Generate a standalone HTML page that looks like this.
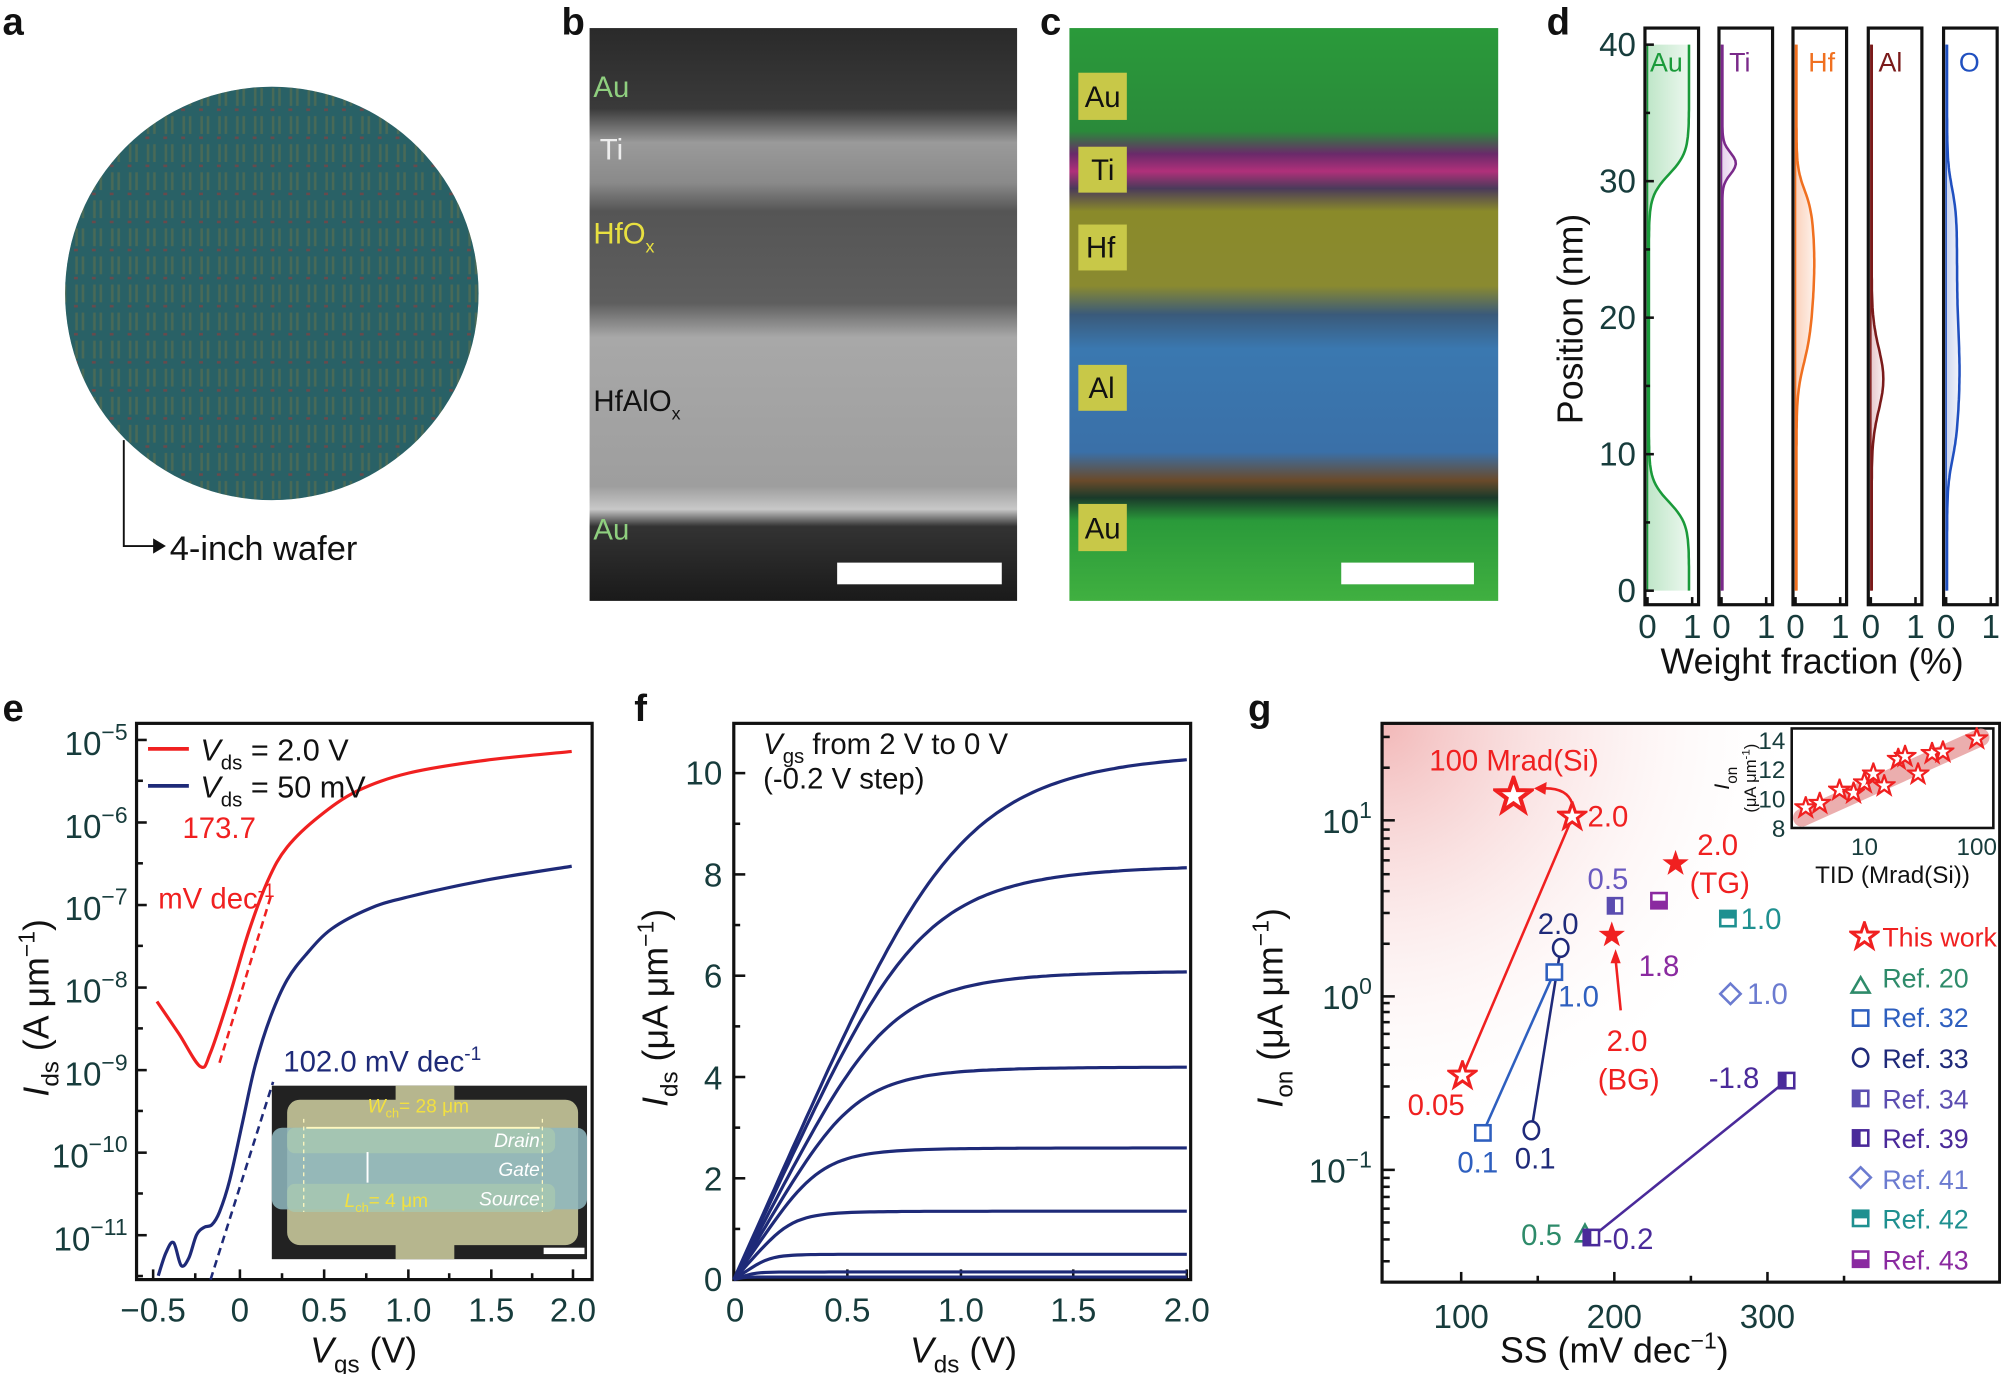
<!DOCTYPE html>
<html><head><meta charset="utf-8"><style>
html,body{margin:0;padding:0;background:#fff;width:2001px;height:1374px;overflow:hidden}
svg{display:block}
text{font-family:"Liberation Sans",sans-serif}
.t{fill:#173c3c;font-size:26px}
.pl{font-size:30px;font-weight:bold;fill:#111}
.ax{font-size:28px;fill:#111}
</style></head><body>
<svg id="s" width="2001" height="1374" viewBox="0 0 1568 1077" preserveAspectRatio="none" xmlns="http://www.w3.org/2000/svg">
<defs>
<pattern id="wg" width="14" height="22" patternUnits="userSpaceOnUse">
<rect width="14" height="22" fill="#285c62"/>
<rect x="3" y="3" width="2" height="14" fill="#5a6a4a"/><rect x="8" y="3" width="2" height="14" fill="#5a6a4a"/>
<rect x="2" y="19" width="3" height="2" fill="#8a3a3a"/>
</pattern>
<linearGradient id="bimg" x1="0" y1="0" x2="0" y2="1">
<stop offset="0" stop-color="#2a2a2a"/><stop offset="0.14" stop-color="#3a3a3a"/>
<stop offset="0.2" stop-color="#9a9a9a"/><stop offset="0.27" stop-color="#8a8a8a"/>
<stop offset="0.32" stop-color="#555"/><stop offset="0.48" stop-color="#5e5e5e"/>
<stop offset="0.54" stop-color="#a8a8a8"/><stop offset="0.8" stop-color="#9e9e9e"/>
<stop offset="0.84" stop-color="#c8c8c8"/><stop offset="0.87" stop-color="#333"/><stop offset="1" stop-color="#1a1a1a"/>
</linearGradient>
<linearGradient id="cimg" x1="0" y1="0" x2="0" y2="1">
<stop offset="0" stop-color="#2a9a3a"/><stop offset="0.18" stop-color="#2a8a3a"/>
<stop offset="0.22" stop-color="#6a2a6a"/><stop offset="0.25" stop-color="#b0307a"/><stop offset="0.28" stop-color="#4a3a5a"/>
<stop offset="0.32" stop-color="#8a8a2a"/><stop offset="0.45" stop-color="#8a8a30"/><stop offset="0.5" stop-color="#3a5a7a"/>
<stop offset="0.56" stop-color="#3a78b0"/><stop offset="0.74" stop-color="#3a70a8"/><stop offset="0.79" stop-color="#6a4a2a"/>
<stop offset="0.82" stop-color="#1a3a2a"/><stop offset="0.86" stop-color="#2a9a3a"/><stop offset="1" stop-color="#40b040"/>
</linearGradient>
<radialGradient id="rg" cx="1083" cy="567" r="330" gradientUnits="userSpaceOnUse">
<stop offset="0" stop-color="#f2b8b8"/><stop offset="1" stop-color="#fff" stop-opacity="0"/>
</radialGradient>
<symbol id="star" viewBox="-10 -10 20 20"><path d="M0,-9 L2.1,-2.9 8.6,-2.8 3.4,1.1 5.3,7.3 0,3.6 -5.3,7.3 -3.4,1.1 -8.6,-2.8 -2.1,-2.9Z"/></symbol>
</defs>

<!-- a -->
<text x="2" y="27" class="pl">a</text>
<circle cx="213" cy="230" r="162" fill="url(#wg)"/>
<circle cx="213" cy="230" r="162" fill="#2a6a70" opacity="0.35"/>
<path d="M97,345 V428 H122" fill="none" stroke="#111" stroke-width="1.5"/>
<path d="M120,422 L130,428 120,434Z" fill="#111"/>
<text x="133" y="439" style="font-size:27px" fill="#111">4-inch wafer</text>

<!-- b -->
<text x="440" y="27" class="pl">b</text>
<rect x="462" y="22" width="335" height="449" fill="url(#bimg)"/>
<rect x="656" y="441" width="129" height="17" fill="#fff"/>
<g style="font-size:23px">
<text x="465" y="76" fill="#8fcf7f">Au</text>
<text x="470" y="125" fill="#eee">Ti</text>
<text x="465" y="191" fill="#e8e040">HfO<tspan dy="7" style="font-size:14px">x</tspan></text>
<text x="465" y="322" fill="#111">HfAlO<tspan dy="7" style="font-size:14px">x</tspan></text>
<text x="465" y="423" fill="#8fcf7f">Au</text>
</g>

<!-- c -->
<text x="815" y="27" class="pl">c</text>
<rect x="838" y="22" width="336" height="449" fill="url(#cimg)"/>
<rect x="1051" y="441" width="104" height="17" fill="#fff"/>
<g style="font-size:23px" fill="#111">
<rect x="845" y="57" width="38" height="37" fill="#c8c848"/><text x="850" y="84">Au</text>
<rect x="845" y="115" width="38" height="36" fill="#c8c848"/><text x="855" y="141">Ti</text>
<rect x="845" y="176" width="38" height="36" fill="#c8c848"/><text x="851" y="202">Hf</text>
<rect x="845" y="286" width="38" height="36" fill="#c8c848"/><text x="853" y="312">Al</text>
<rect x="845" y="395" width="38" height="37" fill="#c8c848"/><text x="850" y="422">Au</text>
</g>

<!-- d -->
<text x="1212" y="27" class="pl">d</text>
<g id="dpanel"></g>
<g class="t" text-anchor="end">
<text x="1282" y="44">40</text><text x="1282" y="151">30</text><text x="1282" y="258">20</text><text x="1282" y="365">10</text><text x="1282" y="472">0</text>
</g>
<text transform="translate(1240,250) rotate(-90)" text-anchor="middle" class="ax">Position (nm)</text>
<text x="1420" y="528" text-anchor="middle" class="ax">Weight fraction (%)</text>

<!-- e -->
<text x="2" y="565" class="pl">e</text>
<rect x="107" y="567" width="357" height="436" fill="none" stroke="#111" stroke-width="2.5"/>
<g id="eticks" stroke="#111" stroke-width="2"></g>
<g class="t" text-anchor="end" style="font-size:26px">
<text x="100" y="592">10<tspan dy="-12" style="font-size:18px">−5</tspan></text>
<text x="100" y="657">10<tspan dy="-12" style="font-size:18px">−6</tspan></text>
<text x="100" y="721">10<tspan dy="-12" style="font-size:18px">−7</tspan></text>
<text x="100" y="786">10<tspan dy="-12" style="font-size:18px">−8</tspan></text>
<text x="100" y="851">10<tspan dy="-12" style="font-size:18px">−9</tspan></text>
<text x="100" y="915">10<tspan dy="-12" style="font-size:18px">−10</tspan></text>
<text x="100" y="980">10<tspan dy="-12" style="font-size:18px">−11</tspan></text>
</g>
<g class="t" text-anchor="middle">
<text x="120" y="1036">−0.5</text><text x="188" y="1036">0</text><text x="254" y="1036">0.5</text><text x="320" y="1036">1.0</text><text x="385" y="1036">1.5</text><text x="449" y="1036">2.0</text>
</g>
<text x="285" y="1068" text-anchor="middle" class="ax"><tspan font-style="italic">V</tspan><tspan dy="8" style="font-size:19px">gs</tspan><tspan dy="-8"> (V)</tspan></text>
<text transform="translate(38,790) rotate(-90)" text-anchor="middle" class="ax"><tspan font-style="italic">I</tspan><tspan dy="8" style="font-size:19px">ds</tspan><tspan dy="-8"> (A μm</tspan><tspan dy="-11" style="font-size:18px">−1</tspan><tspan dy="11">)</tspan></text>
<path id="ered" fill="none" stroke="#f02020" stroke-width="2.5"/>
<path id="eblue" fill="none" stroke="#1e2a78" stroke-width="2.5"/>
<line x1="172" y1="833" x2="213" y2="700" stroke="#f02020" stroke-width="2" stroke-dasharray="6,4"/>
<line x1="165" y1="1003" x2="214" y2="848" stroke="#1e2a78" stroke-width="2" stroke-dasharray="6,4"/>
<line x1="116" y1="587" x2="148" y2="587" stroke="#f02020" stroke-width="3"/>
<line x1="116" y1="616" x2="148" y2="616" stroke="#1e2a78" stroke-width="3"/>
<g style="font-size:24px" fill="#111">
<text x="157" y="596"><tspan font-style="italic">V</tspan><tspan dy="7" style="font-size:16px">ds</tspan><tspan dy="-7"> = 2.0 V</tspan></text>
<text x="157" y="625"><tspan font-style="italic">V</tspan><tspan dy="7" style="font-size:16px">ds</tspan><tspan dy="-7"> = 50 mV</tspan></text>
</g>
<text x="143" y="657" fill="#f02020" style="font-size:23px">173.7</text>
<text x="124" y="712" fill="#f02020" style="font-size:23px">mV dec<tspan dy="-9" style="font-size:15px">-1</tspan></text>
<text x="222" y="840" fill="#1e2a78" style="font-size:23px">102.0 mV dec<tspan dy="-9" style="font-size:15px">-1</tspan></text>
<!-- inset -->
<rect x="213" y="851" width="247" height="136" fill="#222"/>
<rect x="310" y="851" width="46" height="136" fill="#b6b68e"/>
<rect x="225" y="862" width="228" height="114" rx="10" fill="#b6b68e"/>
<rect x="213" y="884" width="247" height="64" rx="8" fill="#8fb8c0" opacity="0.85"/>
<rect x="225" y="884" width="210" height="20" rx="6" fill="#a8c8b0" opacity="0.8"/>
<rect x="225" y="928" width="210" height="22" rx="6" fill="#a8c8b0" opacity="0.8"/>
<line x1="238" y1="877" x2="238" y2="950" stroke="#fff8c0" stroke-dasharray="3,3"/>
<line x1="425" y1="877" x2="425" y2="950" stroke="#fff8c0" stroke-dasharray="3,3"/>
<line x1="240" y1="884" x2="423" y2="884" stroke="#fff8c0" stroke-width="1.5"/>
<line x1="288" y1="903" x2="288" y2="927" stroke="#fff" stroke-width="1.5"/>
<text x="288" y="872" fill="#f2e040" style="font-size:15px;font-style:italic">W<tspan dy="4" style="font-size:10px;font-style:normal">ch</tspan><tspan dy="-4" style="font-style:normal">= 28 μm</tspan></text>
<text x="270" y="946" fill="#f2e040" style="font-size:15px;font-style:italic">L<tspan dy="4" style="font-size:10px;font-style:normal">ch</tspan><tspan dy="-4" style="font-style:normal">= 4 μm</tspan></text>
<g fill="#fff" style="font-size:15px;font-style:italic" text-anchor="end">
<text x="423" y="899">Drain</text><text x="423" y="922">Gate</text><text x="423" y="945">Source</text></g>
<rect x="426" y="978" width="32" height="5" fill="#fff"/>

<!-- f -->
<text x="497" y="565" class="pl">f</text>
<rect x="575" y="567" width="358" height="436" fill="none" stroke="#111" stroke-width="2.5"/>
<g id="fticks" stroke="#111" stroke-width="2"></g>
<g id="fcurves" fill="none" stroke="#1e2a78" stroke-width="2.5"></g>
<g class="t" text-anchor="end">
<text x="566" y="1012">0</text><text x="566" y="933">2</text><text x="566" y="854">4</text><text x="566" y="774">6</text><text x="566" y="695">8</text><text x="566" y="615">10</text>
</g>
<g class="t" text-anchor="middle">
<text x="576" y="1036">0</text><text x="664" y="1036">0.5</text><text x="753" y="1036">1.0</text><text x="841" y="1036">1.5</text><text x="930" y="1036">2.0</text>
</g>
<text x="755" y="1068" text-anchor="middle" class="ax"><tspan font-style="italic">V</tspan><tspan dy="8" style="font-size:19px">ds</tspan><tspan dy="-8"> (V)</tspan></text>
<text transform="translate(523,790) rotate(-90)" text-anchor="middle" class="ax"><tspan font-style="italic">I</tspan><tspan dy="8" style="font-size:19px">ds</tspan><tspan dy="-8"> (μA μm</tspan><tspan dy="-11" style="font-size:18px">−1</tspan><tspan dy="11">)</tspan></text>
<g style="font-size:23px" fill="#111">
<text x="598" y="591"><tspan font-style="italic">V</tspan><tspan dy="7" style="font-size:16px">gs</tspan><tspan dy="-7"> from 2 V to 0 V</tspan></text>
<text x="598" y="618">(-0.2 V step)</text></g>

<!-- g -->
<text x="978" y="565" class="pl">g</text>
<rect x="1083" y="567" width="484" height="438" fill="url(#rg)"/>
<rect x="1083" y="567" width="484" height="438" fill="none" stroke="#111" stroke-width="2.5"/>
<g id="gticks" stroke="#111" stroke-width="2"></g>
<g class="t" text-anchor="end">
<text x="1075" y="653">10<tspan dy="-12" style="font-size:18px">1</tspan></text>
<text x="1075" y="791">10<tspan dy="-12" style="font-size:18px">0</tspan></text>
<text x="1075" y="927">10<tspan dy="-12" style="font-size:18px">−1</tspan></text>
</g>
<g class="t" text-anchor="middle">
<text x="1145" y="1041">100</text><text x="1265" y="1041">200</text><text x="1385" y="1041">300</text></g>
<text x="1265" y="1068" text-anchor="middle" class="ax">SS (mV dec<tspan dy="-11" style="font-size:18px">−1</tspan><tspan dy="11">)</tspan></text>
<text transform="translate(1005,790) rotate(-90)" text-anchor="middle" class="ax"><tspan font-style="italic">I</tspan><tspan dy="8" style="font-size:19px">on</tspan><tspan dy="-8"> (μA μm</tspan><tspan dy="-11" style="font-size:18px">−1</tspan><tspan dy="11">)</tspan></text>
<line x1="1146" y1="843" x2="1232" y2="641" stroke="#f02020" stroke-width="2"/>
<polyline points="1162,888 1218,762" fill="none" stroke="#2e5fbf" stroke-width="2"/>
<polyline points="1200,886 1223,743" fill="none" stroke="#1f2a7a" stroke-width="2"/>
<line x1="1247" y1="970" x2="1400" y2="847" stroke="#4a2a9a" stroke-width="2"/>
<path d="M1232,630 Q1228,617 1208,618" fill="none" stroke="#f02020" stroke-width="2"/>
<path d="M1202,618 L1212,613 1211,623Z" fill="#f02020"/>
<line x1="1270" y1="792" x2="1266" y2="752" stroke="#f02020" stroke-width="2"/>
<path d="M1266,744 L1262,755 1270,755Z" fill="#f02020"/>
<g fill="#fff" stroke="#f02020" stroke-width="2">
<use href="#star" x="1134" y="831" width="24" height="24"/>
<use href="#star" x="1220" y="628" width="24" height="24"/>
<use href="#star" x="1170" y="608" width="32" height="32"/>
</g>
<g fill="#f02020"><use href="#star" x="1301" y="665" width="24" height="24"/><use href="#star" x="1251" y="721" width="24" height="24"/></g>
<g fill="#fff" stroke-width="2">
<rect x="1156" y="882" width="12" height="12" stroke="#2e5fbf"/>
<rect x="1212" y="756" width="12" height="12" stroke="#2e5fbf"/>
<ellipse cx="1200" cy="886" rx="6" ry="7" stroke="#1f2a7a"/>
<ellipse cx="1223" cy="743" rx="6" ry="7" stroke="#1f2a7a"/>
<path d="M1242,960 L1249,973 1235,973Z" stroke="#2e8b6a"/>
<path d="M1356,771 L1364,779 1356,787 1348,779Z" stroke="#6b7bd0"/>
<rect x="1260" y="704" width="11" height="12" stroke="#5b4db0"/>
<rect x="1394" y="841" width="12" height="12" stroke="#4a2a9a"/>
<rect x="1241" y="964" width="12" height="12" stroke="#4a2a9a"/>
<rect x="1348" y="714" width="12" height="12" stroke="#1f9090"/>
<rect x="1294" y="700" width="12" height="12" stroke="#8a2aa0"/>
</g>
<rect x="1260" y="704" width="5.5" height="12" fill="#5b4db0"/>
<rect x="1394" y="841" width="6" height="12" fill="#4a2a9a"/>
<rect x="1241" y="964" width="6" height="12" fill="#4a2a9a"/>
<rect x="1348" y="714" width="12" height="6" fill="#1f9090"/>
<rect x="1294" y="706" width="12" height="6" fill="#8a2aa0"/>
<g style="font-size:23px">
<text x="1120" y="604" fill="#f02020">100 Mrad(Si)</text>
<text x="1244" y="648" fill="#f02020">2.0</text>
<text x="1103" y="874" fill="#f02020">0.05</text>
<text x="1330" y="670" fill="#f02020">2.0</text><text x="1324" y="700" fill="#f02020">(TG)</text>
<text x="1259" y="824" fill="#f02020">2.0</text><text x="1252" y="854" fill="#f02020">(BG)</text>
<text x="1244" y="697" fill="#6a5ac0">0.5</text>
<text x="1284" y="765" fill="#8a2aa0">1.8</text>
<text x="1205" y="732" fill="#1f2a7a">2.0</text>
<text x="1221" y="789" fill="#2e5fbf">1.0</text>
<text x="1142" y="919" fill="#2e5fbf">0.1</text>
<text x="1187" y="916" fill="#1f2a7a">0.1</text>
<text x="1364" y="728" fill="#1f9090">1.0</text>
<text x="1369" y="787" fill="#6b7bd0">1.0</text>
<text x="1339" y="853" fill="#4a2a9a">-1.8</text>
<text x="1192" y="976" fill="#2e8b6a">0.5</text>
<text x="1256" y="979" fill="#4a2a9a">-0.2</text>
</g>
<g style="font-size:21px">
<use href="#star" x="1449" y="722" width="24" height="24" fill="#fff" stroke="#f02020" stroke-width="2"/>
<text x="1475" y="742" fill="#f02020">This work</text>
<path d="M1458,766 L1465,778 1451,778Z" fill="none" stroke="#2e8b6a" stroke-width="2"/><text x="1475" y="774" fill="#2e8b6a">Ref. 20</text>
<rect x="1452" y="792" width="12" height="12" fill="none" stroke="#2e5fbf" stroke-width="2"/><text x="1475" y="805" fill="#2e5fbf">Ref. 32</text>
<ellipse cx="1458" cy="829" rx="6" ry="7" fill="none" stroke="#1f2a7a" stroke-width="2"/><text x="1475" y="837" fill="#1f2a7a">Ref. 33</text>
<rect x="1452" y="855" width="12" height="12" fill="#fff" stroke="#5b4db0" stroke-width="2"/><rect x="1452" y="855" width="6" height="12" fill="#5b4db0"/><text x="1475" y="869" fill="#5b4db0">Ref. 34</text>
<rect x="1452" y="886" width="12" height="12" fill="#fff" stroke="#4a2a9a" stroke-width="2"/><rect x="1452" y="886" width="6" height="12" fill="#4a2a9a"/><text x="1475" y="900" fill="#4a2a9a">Ref. 39</text>
<path d="M1458,915 L1466,923 1458,931 1450,923Z" fill="none" stroke="#6b7bd0" stroke-width="2"/><text x="1475" y="932" fill="#6b7bd0">Ref. 41</text>
<rect x="1452" y="949" width="12" height="12" fill="#fff" stroke="#1f9090" stroke-width="2"/><rect x="1452" y="949" width="12" height="6" fill="#1f9090"/><text x="1475" y="963" fill="#1f9090">Ref. 42</text>
<rect x="1452" y="981" width="12" height="12" fill="#fff" stroke="#8a2aa0" stroke-width="2"/><rect x="1452" y="987" width="12" height="6" fill="#8a2aa0"/><text x="1475" y="995" fill="#8a2aa0">Ref. 43</text>
</g>
<rect x="1404" y="571" width="158" height="78" fill="#fff" stroke="#111" stroke-width="2"/>
<line x1="1412" y1="641" x2="1552" y2="578" stroke="#e8a0a0" stroke-width="14" stroke-linecap="round" opacity="0.85"/>
<g id="istars" fill="#fff" stroke="#f02020" stroke-width="2"></g>
<g class="t" style="font-size:19px" text-anchor="end">
<text x="1399" y="587">14</text><text x="1399" y="610">12</text><text x="1399" y="633">10</text><text x="1399" y="656">8</text></g>
<g class="t" style="font-size:19px" text-anchor="middle"><text x="1461" y="670">10</text><text x="1549" y="670">100</text></g>
<text x="1483" y="692" text-anchor="middle" style="font-size:19px" fill="#111">TID (Mrad(Si))</text>
<text transform="translate(1355,610) rotate(-90)" text-anchor="middle" style="font-size:17px" fill="#111"><tspan font-style="italic">I</tspan><tspan dy="6" style="font-size:12px">on</tspan></text>
<text transform="translate(1376,610) rotate(-90)" text-anchor="middle" style="font-size:13px" fill="#111">(μA μm<tspan dy="-5" style="font-size:9px">-1</tspan><tspan dy="5">)</tspan></text>
</svg>
<script>
var NS="http://www.w3.org/2000/svg";
function el(p,t,a){var e=document.createElementNS(NS,t);for(var k in a)e.setAttribute(k,a[k]);p.appendChild(e);return e;}
function sig(x){return 1/(1+Math.exp(-x));}
var dp=document.getElementById("dpanel");
var starts=[1289,1347,1405,1464,1523],cols=["#1a9a3a","#7a2a8a","#f07020","#7a1a1a","#2050c0"],fills=["#bfe6c8","#e6d0ec","#fbd2bc","#e8c8cc","#cfd8f0"];
var fns=[function(n){return 0.03+0.9*(sig((6.5-n)/0.8)+sig((n-30.5)/0.8));},
function(n){return 0.02+0.3*Math.exp(-Math.pow((n-31.3)/1.1,2));},
function(n){return 0.02+0.4*sig((n-16.5)/1.1)*sig((29.5-n)/0.8)*(0.75+0.25*Math.exp(-Math.pow((n-24)/5,2)));},
function(n){return 0.02+0.26*Math.exp(-Math.pow((n-15.5)/3.2,2));},
function(n){return 0.02+0.28*sig((n-9.5)/1)*sig((29.5-n)/1)*(0.8+0.2*Math.exp(-Math.pow((n-16)/4,2)));}];
for(var i=0;i<5;i++){var x0=starts[i];
 el(dp,"rect",{x:x0,y:22,width:42,height:452,fill:"none",stroke:"#111","stroke-width":2.5});
 var pts=[];for(var n=0;n<=40;n+=0.25){pts.push((x0+2+35*Math.min(fns[i](n),1)).toFixed(1)+","+(463-n*10.7).toFixed(1));}
 var g=el(dp,"linearGradient",{id:"dg"+i,x1:0,y1:0,x2:1,y2:0});el(g,"stop",{offset:0,"stop-color":fills[i]});el(g,"stop",{offset:1,"stop-color":fills[i],"stop-opacity":0.3});
 el(dp,"path",{d:"M"+(x0+2)+",463 L"+pts.join(" L")+" L"+(x0+2)+","+(463-428),fill:"url(#dg"+i+")"});
 el(dp,"path",{d:"M"+pts.join(" L"),fill:"none",stroke:cols[i],"stroke-width":2});
 el(dp,"line",{x1:x0+2,y1:463,x2:x0+2,y2:35,stroke:cols[i],"stroke-width":1.2});
 var t=el(dp,"text",{x:x0+4,y:56,fill:cols[i],style:"font-size:21px"});t.textContent=["Au","Ti","Hf","Al","O"][i];if(i==4)t.setAttribute("x",x0+12);if(i==1)t.setAttribute("x",x0+8);if(i==2)t.setAttribute("x",x0+12);if(i==3)t.setAttribute("x",x0+8);
 var a=el(dp,"text",{x:x0+2,y:500,"text-anchor":"middle",class:"t"});a.textContent="0";
 var b=el(dp,"text",{x:x0+37,y:500,"text-anchor":"middle",class:"t"});b.textContent="1";
 for(var k=0;k<=8;k++){var yy=463-k*53.5;if(i==0)el(dp,"line",{x1:x0,y1:yy,x2:x0+(k%2?4:7),y2:yy,stroke:"#111","stroke-width":2});}
 el(dp,"line",{x1:x0+2,y1:474,x2:x0+2,y2:468,stroke:"#111","stroke-width":2});el(dp,"line",{x1:x0+37,y1:474,x2:x0+37,y2:468,stroke:"#111","stroke-width":2});
}
function sm(p){var d="M"+p[0][0]+","+p[0][1];for(var i=1;i<p.length;i++){var p0=p[Math.max(i-2,0)],p1=p[i-1],p2=p[i],p3=p[Math.min(i+1,p.length-1)];d+=" C"+(p1[0]+(p2[0]-p0[0])/6).toFixed(1)+","+(p1[1]+(p2[1]-p0[1])/6).toFixed(1)+" "+(p2[0]-(p3[0]-p1[0])/6).toFixed(1)+","+(p2[1]-(p3[1]-p1[1])/6).toFixed(1)+" "+p2[0]+","+p2[1];}return d;}
document.getElementById("ered").setAttribute("d",sm([[123,785],[140,810],[157,836],[165,825],[180,780],[195,730],[210,690],[225,664],[250,640],[280,620],[320,606],[380,596],[448,589]]));
document.getElementById("eblue").setAttribute("d",sm([[124,1000],[130,982],[136,974],[142,992],[148,986],[154,968],[160,962],[166,960],[172,950],[180,925],[190,880],[200,835],[212,797],[225,768],[240,748],[260,728],[290,712],[320,703],[380,690],[448,679]]));
var et=document.getElementById("eticks");
[120,188,254,320,385,449].forEach(function(x){el(et,"line",{x1:x,y1:1003,x2:x,y2:995});});
[153,221,287,352,417].forEach(function(x){el(et,"line",{x1:x,y1:1003,x2:x,y2:998});});
for(var k=0;k<7;k++){var yy=580+k*64.7;el(et,"line",{x1:107,y1:yy,x2:115,y2:yy});el(et,"line",{x1:107,y1:yy+32,x2:112,y2:yy+32});}
var fc=document.getElementById("fcurves"),ft=document.getElementById("fticks");
[[10.45,10],[8.2,9.5],[6.1,8.5],[4.2,7.5],[2.6,6.5],[1.35,5],[0.5,3],[0.15,1.5],[0.05,1]].forEach(function(c){var p=[];for(var v=0;v<=2.0001;v+=0.02){var x=v*c[1]/c[0];var I=c[0]*Math.pow(Math.pow(x,4)/(1+Math.pow(x,4)),0.25);p.push((575+v*177.5).toFixed(1)+","+(1003-I*39.7).toFixed(1));}el(fc,"path",{d:"M"+p.join(" L")});});
[575,664,753,841,930].forEach(function(x){el(ft,"line",{x1:x,y1:1003,x2:x,y2:995});});
for(var k=0;k<=10;k++){var yy=1003-k*39.7;el(ft,"line",{x1:575,y1:yy,x2:k%2?580:584,y2:yy});}
var gt=document.getElementById("gticks");
[1145,1265,1385].forEach(function(x){el(gt,"line",{x1:x,y1:1005,x2:x,y2:997});});
[1205,1325,1445].forEach(function(x){el(gt,"line",{x1:x,y1:1005,x2:x,y2:1000});});
[643,781,917].forEach(function(y){el(gt,"line",{x1:1083,y1:y,x2:1093,y2:y});for(var m=2;m<10;m++){var yy=y-137*Math.log10(m);if(yy>567)el(gt,"line",{x1:1083,y1:yy,x2:1089,y2:yy});}});
for(var m=2;m<10;m++){var yy=917+137*(1-Math.log10(m));if(yy<1003)el(gt,"line",{x1:1083,y1:yy,x2:1089,y2:yy});}
var is=document.getElementById("istars");
[[3,9.3],[4,9.6],[6,10.5],[8,10.3],[10,11],[12,11.6],[15,10.8],[20,12.6],[23,12.8],[30,11.6],[40,13],[50,13.1],[100,14]].forEach(function(s){var x=1373+88*Math.log10(s[0]),y=648-(s[1]-8)*11.5;el(is,"use",{href:"#star",x:x-9,y:y-9,width:18,height:18});});
</script>
</body></html>
